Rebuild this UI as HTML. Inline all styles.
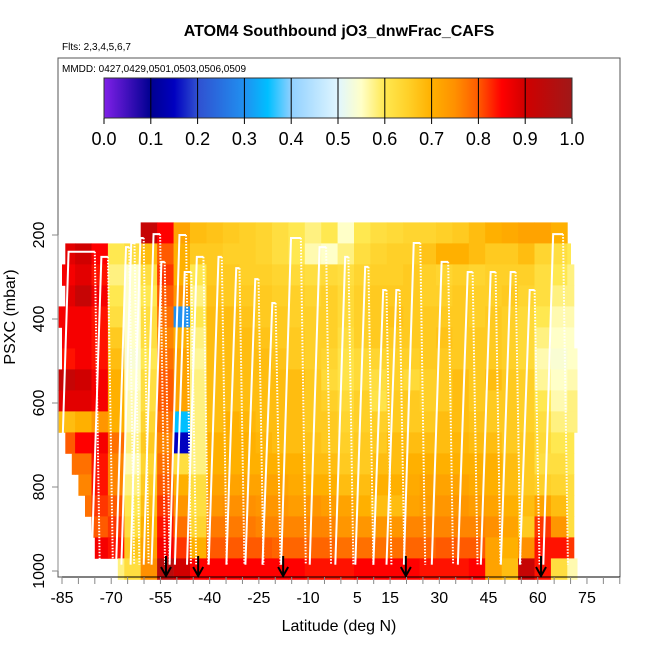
<!DOCTYPE html>
<html><head><meta charset="utf-8"><style>
html,body{margin:0;padding:0;background:#fff;}
svg text{font-family:"Liberation Sans",sans-serif;}
</style></head><body>
<svg id="chart" width="650" height="650" viewBox="0 0 650 650" xmlns="http://www.w3.org/2000/svg">
<defs>
<linearGradient id="cbg" x1="0" x2="1" y1="0" y2="0">
<stop offset="0" stop-color="#8020e8"/><stop offset="0.1" stop-color="#000090"/><stop offset="0.15" stop-color="#0000c0"/>
<stop offset="0.2" stop-color="#3050d0"/><stop offset="0.3" stop-color="#2090f0"/><stop offset="0.35" stop-color="#00bfff"/>
<stop offset="0.4" stop-color="#90d0ff"/><stop offset="0.5" stop-color="#e0f6ff"/><stop offset="0.55" stop-color="#ffffc8"/>
<stop offset="0.6" stop-color="#ffe850"/><stop offset="0.65" stop-color="#ffd028"/><stop offset="0.7" stop-color="#ffb000"/>
<stop offset="0.75" stop-color="#ff9000"/><stop offset="0.8" stop-color="#ff5a00"/>
<stop offset="0.85" stop-color="#ff0000"/><stop offset="0.9" stop-color="#d00000"/><stop offset="1" stop-color="#a01818"/>
</linearGradient>
</defs>
<text x="339" y="36" font-size="16" font-weight="bold" text-anchor="middle">ATOM4 Southbound jO3_dnwFrac_CAFS</text>
<text x="62" y="50" font-size="10">Flts: 2,3,4,5,6,7</text>
<g id="heat"></g>
<g id="profiles"></g>
<g id="arrows"></g>
<rect x="58" y="58" width="562" height="519" fill="none" stroke="#555" stroke-width="1"/>
<text x="62" y="72" font-size="10">MMDD: 0427,0429,0501,0503,0506,0509</text>
<rect x="104" y="78" width="468" height="40" fill="url(#cbg)" stroke="#333"/>
<g id="cbar"></g>
<g id="xaxis"></g>
<g id="yaxis"></g>
<text x="339" y="631" font-size="16" text-anchor="middle">Latitude (deg N)</text>
<text x="0" y="0" font-size="16" text-anchor="middle" transform="translate(15,317) rotate(-90)">PSXC (mbar)</text>
</svg>
<script>
var colLats = [-86,-81,-76,-71,-66,-61,-56,-51,-46,-41,-36,-31,-26,-21,-16,-11,-6,-1,4,9,14,19,24,29,34,39,44,49,54,59,64,69];
var rowPress = [190,240,290,340,390,440,490,540,590,640,690,740,790,840,890,940,990];
var rowStart = [-61,-84,-85,-84,-86,-85,-85,-86,-86,-86,-84,-82,-80,-78,-76,-75,-68];
var rowEnd = [69,70,71,71,71,71,72,72,72,72,71,71,71,71,71,71,72];
var N = null;
var row0 = [N,N,N,N,N,0.92,0.85,0.72,0.68,0.67,0.66,0.65,0.64,0.62,0.60,0.58,0.60,0.55,0.60,0.62,0.63,0.64,0.64,0.65,0.66,0.68,0.70,0.71,0.72,0.72,0.70,N];
var row1 = [0.88,0.90,0.85,0.60,0.62,0.68,0.80,0.70,0.66,0.66,0.65,0.65,0.64,0.62,0.60,0.56,0.55,0.58,0.62,0.64,0.65,0.65,0.67,0.70,0.70,0.68,0.66,0.66,0.68,0.64,0.62,0.60];
var row2 = [0.86,0.88,0.84,0.58,0.55,0.62,0.82,0.70,0.60,0.66,0.66,0.65,0.65,0.64,0.63,0.62,0.63,0.62,0.64,0.65,0.65,0.66,0.65,0.64,0.65,0.64,0.65,0.65,0.65,0.62,0.60,0.58];
var row3 = [0.88,0.92,0.86,0.60,0.55,0.60,0.80,0.74,0.58,0.67,0.66,0.66,0.66,0.65,0.65,0.64,0.65,0.63,0.65,0.66,0.66,0.66,0.65,0.65,0.66,0.65,0.65,0.66,0.64,0.62,0.58,0.58];
var row4 = [0.86,0.86,0.84,0.62,0.55,0.62,0.78,0.30,0.60,0.68,0.68,0.67,0.66,0.66,0.65,0.65,0.65,0.63,0.65,0.66,0.67,0.66,0.66,0.66,0.66,0.65,0.66,0.65,0.63,0.60,0.56,0.56];
var row5 = [0.86,0.86,0.84,0.66,0.55,0.62,0.76,0.70,0.58,0.68,0.68,0.68,0.67,0.66,0.66,0.65,0.65,0.62,0.65,0.66,0.66,0.66,0.66,0.67,0.66,0.66,0.66,0.65,0.63,0.58,0.55,0.55];
var row6 = [0.84,0.86,0.84,0.68,0.54,0.60,0.78,0.72,0.57,0.68,0.68,0.68,0.68,0.67,0.66,0.65,0.64,0.61,0.63,0.64,0.65,0.65,0.66,0.66,0.66,0.66,0.66,0.65,0.63,0.56,0.54,0.55];
var row7 = [0.92,0.90,0.86,0.70,0.55,0.62,0.80,0.72,0.58,0.68,0.68,0.68,0.68,0.68,0.68,0.66,0.63,0.61,0.63,0.62,0.65,0.63,0.65,0.66,0.68,0.66,0.68,0.66,0.65,0.57,0.55,0.56];
var row8 = [0.88,0.88,0.86,0.70,0.56,0.62,0.80,0.72,0.58,0.68,0.68,0.68,0.68,0.68,0.68,0.66,0.65,0.63,0.65,0.61,0.66,0.66,0.65,0.66,0.68,0.66,0.66,0.66,0.65,0.60,0.56,0.58];
var row9 = [0.68,0.70,0.74,0.70,0.56,0.64,0.78,0.35,0.58,0.68,0.70,0.69,0.68,0.68,0.68,0.66,0.66,0.64,0.65,0.65,0.66,0.66,0.66,0.68,0.68,0.67,0.66,0.66,0.65,0.62,0.58,0.58];
var row10 = [0.80,0.85,0.86,0.78,0.58,0.66,0.76,0.15,0.58,0.70,0.70,0.70,0.69,0.68,0.68,0.67,0.66,0.65,0.66,0.66,0.68,0.68,0.68,0.68,0.69,0.68,0.68,0.66,0.66,0.63,0.60,0.60];
var row11 = [0.78,0.78,0.84,0.76,0.56,0.64,0.78,0.62,0.58,0.70,0.70,0.70,0.70,0.70,0.70,0.68,0.68,0.66,0.66,0.68,0.68,0.70,0.70,0.70,0.70,0.70,0.70,0.68,0.66,0.62,0.62,0.60];
var row12 = [0.76,0.76,0.84,0.76,0.58,0.66,0.80,0.70,0.62,0.72,0.72,0.72,0.72,0.72,0.71,0.70,0.70,0.68,0.68,0.70,0.70,0.71,0.72,0.72,0.72,0.71,0.70,0.68,0.66,0.65,0.64,0.62];
var row13 = [N,0.78,0.82,0.80,0.60,0.68,0.82,0.74,0.62,0.74,0.75,0.75,0.74,0.74,0.73,0.74,0.73,0.72,0.70,0.68,0.68,0.72,0.73,0.74,0.74,0.73,0.72,0.70,0.68,0.72,0.68,0.62];
var row14 = [N,0.80,0.80,0.82,0.62,0.70,0.84,0.78,0.64,0.77,0.77,0.77,0.76,0.76,0.76,0.76,0.76,0.74,0.74,0.74,0.74,0.76,0.76,0.76,0.76,0.76,0.75,0.72,0.66,0.82,0.74,0.62];
var row15 = [N,0.84,0.86,0.84,0.66,0.72,0.86,0.82,0.70,0.80,0.80,0.80,0.80,0.79,0.79,0.79,0.79,0.78,0.78,0.78,0.78,0.79,0.79,0.80,0.80,0.80,0.72,0.70,0.75,0.84,0.84,0.82];
var row16 = [N,N,N,0.58,0.62,0.75,0.95,0.90,0.85,0.85,0.85,0.85,0.85,0.85,0.85,0.84,0.84,0.84,0.85,0.85,0.85,0.85,0.84,0.84,0.84,0.85,0.72,0.68,0.92,0.84,0.62,0.56];
var heatRows = [row0,row1,row2,row3,row4,row5,row6,row7,row8,row9,row10,row11,row12,row13,row14,row15,row16];

var peakLats = [-79,-72,-65,-63.4,-60.6,-56.1,-54.2,-48.2,-46.6,-42.9,-36.8,-31.4,-25.6,-20.4,-13.7,-5.5,1.8,7.9,13.4,17.4,23.2,31.7,39.4,46.4,52.5,58.3,66.2];
var peakPress = [240,252,229,219,207,198,264,200,288,252,252,279,305,362,207,229,252,276,331,331,219,264,288,288,288,331,198];
var peakWidth = [8,2,1,1,1,2,1,2,2,2,1,1,1,1,3,2,1,1,1,1,2,2,1.5,1.5,1.5,1.5,3];
var arrowLats = [-53.3,-43.5,-17.6,19.8,61.0];

var xTicks = [-85,-80,-75,-70,-65,-60,-55,-50,-45,-40,-35,-30,-25,-20,-15,-10,-5,0,5,10,15,20,25,30,35,40,45,50,55,60,65,70,75,80,85];
var xLabels = [-85,-70,-55,-40,-25,-10,5,15,30,45,60,75];
var yTicks = [200,400,600,800,1000];
var cbTicks = [0.0,0.1,0.2,0.3,0.4,0.5,0.6,0.7,0.8,0.9,1.0];

var colW = 5, rowH = 50;
function xs(lat){return 62 + (lat + 85) * 3.281;}
function ys(p){return 151 + p * 0.42;}
function cbx(v){return 104 + v * 468;}
var stops=[[0,[128,32,232]],[0.1,[0,0,144]],[0.15,[0,0,192]],[0.2,[48,80,208]],[0.3,[32,144,240]],[0.35,[0,191,255]],[0.4,[144,208,255]],[0.5,[224,246,255]],[0.55,[255,255,200]],[0.6,[255,232,80]],[0.65,[255,208,40]],[0.7,[255,176,0]],[0.75,[255,144,0]],[0.8,[255,90,0]],[0.85,[255,0,0]],[0.9,[208,0,0]],[1,[160,24,24]]];
function color(v){
  for(var i=1;i<stops.length;i++){ if(v<=stops[i][0]){ var a=stops[i-1],b=stops[i],t=(v-a[0])/(b[0]-a[0]);
    var c=a[1].map(function(x,k){return Math.round(x+(b[1][k]-x)*t);}); return 'rgb('+c.join(',')+')'; } }
  return 'rgb(160,24,24)';
}
var NS='http://www.w3.org/2000/svg';
function mk(tag,attrs,parent){var e=document.createElementNS(NS,tag);for(var k in attrs)e.setAttribute(k,attrs[k]);parent.appendChild(e);return e;}

var heat=document.getElementById('heat');
heatRows.forEach(function(row,r){
  row.forEach(function(v,c){
    if(v===null) return;
    var l0=Math.max(colLats[c],rowStart[r]), l1=Math.min(colLats[c]+colW,rowEnd[r]);
    if(l1<=l0) return;
    var x0=xs(l0), x1=xs(l1), y0=ys(rowPress[r]-rowH/2+5), y1=ys(rowPress[r]+rowH/2+5);
    var el=mk('rect',{x:x0.toFixed(1),y:y0.toFixed(1),width:(x1-x0+0.4).toFixed(1),height:(y1-y0+0.4).toFixed(1),fill:color(v)},heat);
    
    
  });
});

var prof=document.getElementById('profiles');
peakLats.forEach(function(lat,i){
  var pb=985, pt=peakPress[i], w=peakWidth[i]/2;
  var up=mk('polyline',{points:xs(lat-w-3)+','+ys(pb)+' '+xs(lat-w)+','+ys(pt)+' '+xs(lat+w)+','+ys(pt),fill:'none',stroke:'#fff','stroke-width':2},prof);
  
  
  var dn=mk('polyline',{points:xs(lat+w)+','+ys(pt)+' '+xs(lat+w+1.5)+','+ys(pb),fill:'none',stroke:'#fff','stroke-width':2,'stroke-dasharray':'1.5,1.5'},prof);
  
  
});

var arr=document.getElementById('arrows');
arrowLats.forEach(function(lat){
  var x=xs(lat);
  var g=mk('g',{},arr);
  
  
  mk('line',{x1:x,y1:556,x2:x,y2:575,stroke:'#000','stroke-width':2},g);
  mk('polyline',{points:(x-5)+',567 '+x+',576 '+(x+5)+',567',fill:'none',stroke:'#000','stroke-width':2},g);
});

var cb=document.getElementById('cbar');
cbTicks.forEach(function(v){
  var x=cbx(v);
  if(v>0&&v<1){var l=mk('line',{x1:x,y1:78,x2:x,y2:118,stroke:'#000','stroke-width':1},cb);
    
    }
  mk('line',{x1:x,y1:118,x2:x,y2:124,stroke:'#000'},cb);
  var t=mk('text',{x:x,y:145,'font-size':18,'text-anchor':'middle'},cb);
  t.textContent=v.toFixed(1);
  
  
});

var xa=document.getElementById('xaxis');
mk('line',{x1:xs(-85),y1:577,x2:620,y2:577,stroke:'#000'},xa);
xTicks.forEach(function(v){mk('line',{x1:xs(v),y1:577,x2:xs(v),y2:584,stroke:'#888'},xa);});
xLabels.forEach(function(v){
  var t=mk('text',{x:xs(v),y:603,'font-size':16,'text-anchor':'middle'},xa);
  t.textContent=String(v);
  
  
});

var ya=document.getElementById('yaxis');
mk('line',{x1:58,y1:ys(200),x2:58,y2:ys(1000),stroke:'#888'},ya);
yTicks.forEach(function(v){
  mk('line',{x1:52,y1:ys(v),x2:58,y2:ys(v),stroke:'#888'},ya);
  var t=mk('text',{x:0,y:0,'font-size':16,'text-anchor':'middle',transform:'translate(44,'+ys(v)+') rotate(-90)'},ya);
  t.textContent=String(v);
  
  
});
</script>
</body></html>
